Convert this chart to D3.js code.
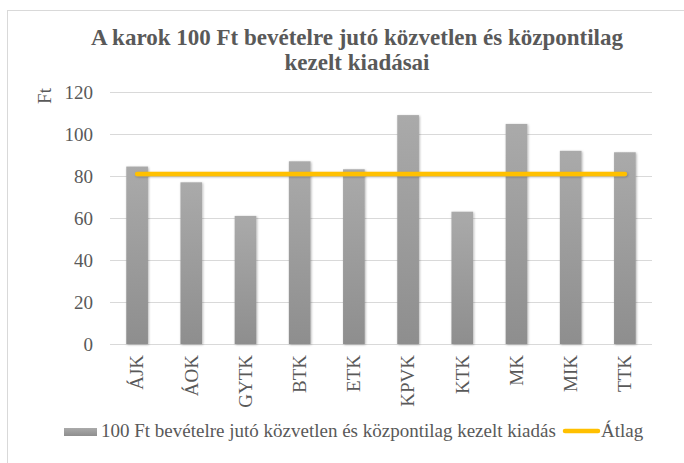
<!DOCTYPE html>
<html>
<head>
<meta charset="utf-8">
<script src="https://cdn.jsdelivr.net/npm/d3@7"></script>
<style>
  body { margin: 0; background: #fff; }
  svg { font-family: "Liberation Serif", "Times New Roman", serif; }
</style>
</head>
<body>
<div id="chart"></div>
<script>
const WIDTH = 684;
const HEIGHT = 463;

const categories = ["ÁJK", "ÁOK", "GYTK", "BTK", "ETK", "KPVK", "KTK", "MK", "MIK", "TTK"];
const values = [84.5, 77, 61, 87, 83.2, 109, 63, 104.8, 92, 91.3];
const average = [81, 81, 81, 81, 81, 81, 81, 81, 81, 81];
const yTicks = [0, 20, 40, 60, 80, 100, 120];

const barLabel = "100 Ft bevételre jutó közvetlen és központilag kezelt kiadás";
const lineLabel = "Átlag";

const margin = {top: 92, right: 32, bottom: 119, left: 110};
const FONT = "Liberation Serif, Times New Roman, serif";
const TEXT_COLOR = "#595959";

const svg = d3.select("#chart")
  .append("svg")
  .attr("width", WIDTH)
  .attr("height", HEIGHT);

const defs = svg.append("defs");

const grad = defs.append("linearGradient")
  .attr("id", "barGrad")
  .attr("x1", 0).attr("y1", 0).attr("x2", 0).attr("y2", 1);
grad.append("stop").attr("offset", "0%").attr("stop-color", "#aaaaaa");
grad.append("stop").attr("offset", "100%").attr("stop-color", "#8e8e8e");

// userSpaceOnUse so the flat average line keeps its shadow
const shadow = defs.append("filter")
  .attr("id", "shadow")
  .attr("filterUnits", "userSpaceOnUse")
  .attr("x", 0).attr("y", 0)
  .attr("width", WIDTH).attr("height", HEIGHT);
shadow.append("feDropShadow")
  .attr("dx", 0.8).attr("dy", 0.8)
  .attr("stdDeviation", 1.2)
  .attr("flood-color", "#000")
  .attr("flood-opacity", 0.3);

// chart border
svg.append("rect")
  .attr("x", 7.5).attr("y", 10.5)
  .attr("width", WIDTH + 10).attr("height", HEIGHT + 10)
  .attr("fill", "none")
  .attr("stroke", "#d9d9d9");

// title
const title = svg.append("text")
  .attr("text-anchor", "middle")
  .attr("font-weight", "bold")
  .attr("font-size", 23)
  .attr("fill", TEXT_COLOR);
title.append("tspan").attr("x", 357).attr("y", 45).text("A karok 100 Ft bevételre jutó közvetlen és központilag");
title.append("tspan").attr("x", 357).attr("y", 70).text("kezelt kiadásai");

const x = d3.scaleBand()
  .domain(categories)
  .range([margin.left, WIDTH - margin.right])
  .paddingInner(0.6)
  .paddingOuter(0.3);

const y = d3.scaleLinear()
  .domain([0, 120])
  .range([HEIGHT - margin.bottom, margin.top]);

// gridlines
svg.append("g")
  .selectAll("line")
  .data(yTicks)
  .enter().append("line")
  .attr("x1", margin.left)
  .attr("x2", WIDTH - margin.right)
  .attr("y1", d => y(d) + 0.5)
  .attr("y2", d => y(d) + 0.5)
  .attr("stroke", "#d9d9d9")
  .attr("stroke-width", 1);

// y axis labels
const yAxis = svg.append("g")
  .attr("transform", `translate(${margin.left - 17},0)`)
  .call(d3.axisLeft(y).tickValues(yTicks).tickSize(0).tickPadding(0));
yAxis.select(".domain").remove();
yAxis.selectAll("text")
  .attr("font-family", FONT)
  .attr("font-size", 19)
  .attr("fill", TEXT_COLOR);

svg.append("text")
  .attr("transform", "translate(51,96) rotate(-90)")
  .attr("text-anchor", "middle")
  .attr("font-size", 19)
  .attr("fill", TEXT_COLOR)
  .text("Ft");

// bars
svg.append("g")
  .selectAll("rect")
  .data(values)
  .enter().append("rect")
  .attr("x", (d, i) => x(categories[i]))
  .attr("y", d => y(d))
  .attr("width", x.bandwidth())
  .attr("height", d => y(0) - y(d))
  .attr("fill", "url(#barGrad)")
  .attr("filter", "url(#shadow)");

// average line
const line = d3.line()
  .x((d, i) => x(categories[i]) + x.bandwidth() / 2)
  .y(d => y(d));

svg.append("path")
  .datum(average)
  .attr("d", line)
  .attr("fill", "none")
  .attr("stroke", "#ffc000")
  .attr("stroke-width", 4.5)
  .attr("stroke-linecap", "round")
  .attr("filter", "url(#shadow)");

// x axis labels
const xAxis = svg.append("g")
  .attr("transform", `translate(0,${y(0) + 11})`)
  .call(d3.axisBottom(x).tickSize(0).tickPadding(0));
xAxis.select(".domain").remove();
xAxis.selectAll("text")
  .attr("font-family", FONT)
  .attr("font-size", 19)
  .attr("fill", TEXT_COLOR)
  .attr("transform", "rotate(-90)")
  .attr("text-anchor", "end")
  .attr("dy", "0.33em")
  .attr("x", 0)
  .attr("y", 0);

// legend
const legend = svg.append("g");
legend.append("rect")
  .attr("x", 64).attr("y", 428)
  .attr("width", 33).attr("height", 8)
  .attr("fill", "url(#barGrad)");
legend.append("text")
  .attr("x", 101).attr("y", 437)
  .attr("font-size", 19)
  .attr("fill", TEXT_COLOR)
  .text(barLabel);
legend.append("line")
  .attr("x1", 565).attr("x2", 598)
  .attr("y1", 431).attr("y2", 431)
  .attr("stroke", "#ffc000")
  .attr("stroke-width", 4.5)
  .attr("stroke-linecap", "round");
legend.append("text")
  .attr("x", 601).attr("y", 437)
  .attr("font-size", 19)
  .attr("fill", TEXT_COLOR)
  .text(lineLabel);
</script>
</body>
</html>
